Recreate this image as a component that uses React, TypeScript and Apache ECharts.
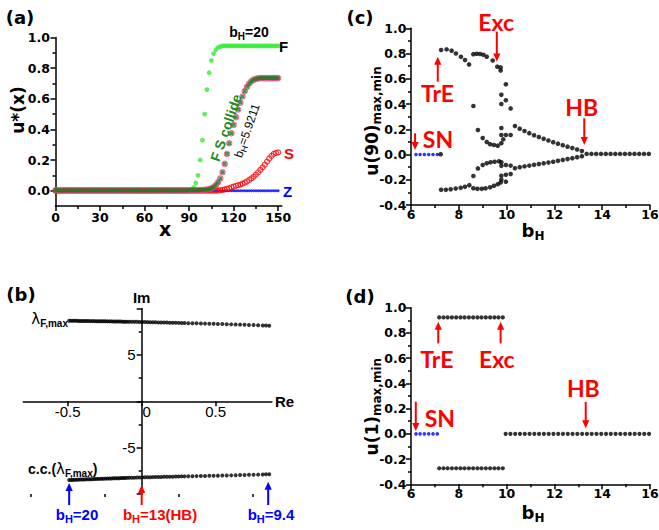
import { useEffect, useRef } from 'react';
import * as echarts from 'echarts';

// ---------------- Panel (a): u*(x) profiles ----------------
const xA = [0,1.5,3,4.5,6,7.5,9,10.5,12,13.5,15,16.5,18,19.5,21,22.5,24,25.5,27,28.5,30,31.5,33,34.5,36,37.5,39,40.5,42,43.5,45,46.5,48,49.5,51,52.5,54,55.5,57,58.5,60,61.5,63,64.5,66,67.5,69,70.5,72,73.5,75,76.5,78,79.5,81,82.5,84,85.5,87,88.5,90,91.5,93,94.5,96,97.5,99,100.5,102,103.5,105,106.5,108,109.5,111,112.5,114,115.5,117,118.5,120,121.5,123,124.5,126,127.5,129,130.5,132,133.5,135,136.5,138,139.5,141,142.5,144,145.5,147,148.5,150];
const uF = [
0,0,0,0,0,0,0,0,0,0, 0,0,0,0,0,0,0,0,0,0, 0,0,0,0,0,0,0,0,0,0,
0,0,0,0,0,0,0,0,0,0, 0,0,0,0,0,0,0,0,0,0, 0,0,0,0,0,0,0,0,0,0,
0.003,0.008,0.02,0.05,0.1,0.2,0.33,0.5,0.66,0.77,
0.85,0.895,0.92,0.935,0.94,0.945,0.945,0.945,0.945,0.945,
0.945,0.945,0.945,0.945,0.945,0.945,0.945,0.945,0.945,0.945,
0.945,0.945,0.945,0.945,0.945,0.945,0.945,0.945,0.945,0.945,
0.945];
const uCollide = [
0.002,0.002,0.002,0.002,0.002,0.002,0.002,0.002,0.002,0.002, 0.002,0.002,0.002,0.002,0.002,0.002,0.002,0.002,0.002,0.002,
0.002,0.002,0.002,0.002,0.002,0.002,0.002,0.002,0.002,0.002, 0.002,0.002,0.002,0.002,0.002,0.002,0.002,0.002,0.002,0.002,
0.002,0.002,0.002,0.002,0.002,0.002,0.002,0.002,0.002,0.002, 0.002,0.002,0.002,0.002,0.002,0.002,0.002,0.002,0.002,0.002,
0.003,0.003,0.003,0.003,0.003,0.004,0.005,0.006,0.008,0.011,
0.016,0.024,0.036,0.055,0.08,0.12,0.175,0.24,0.31,0.375,
0.43,0.48,0.53,0.575,0.615,0.65,0.678,0.7,0.715,0.725,
0.73,0.733,0.735,0.735,0.735,0.735,0.735,0.735,0.735,0.735,
0.735];
const uS = [
0,0,0,0,0,0,0,0,0,0, 0,0,0,0,0,0,0,0,0,0, 0,0,0,0,0,0,0,0,0,0,
0,0,0,0,0,0,0,0,0,0, 0,0,0,0,0,0,0,0,0,0, 0,0,0,0,0,0,0,0,0,0,
0,0,0,0,0,0,0,0,0,0,
0,0,0,0,0.003,0.005,0.008,0.012,0.017,0.022,
0.027,0.032,0.036,0.04,0.046,0.053,0.06,0.07,0.08,0.092,
0.105,0.12,0.136,0.152,0.17,0.19,0.21,0.227,0.24,0.247,
0.25];
const uZ = [
0,0,0,0,0,0,0,0,0,0, 0,0,0,0,0,0,0,0,0,0, 0,0,0,0,0,0,0,0,0,0,
0,0,0,0,0,0,0,0,0,0, 0,0,0,0,0,0,0,0,0,0, 0,0,0,0,0,0,0,0,0,0,
0,0,0,0,0,0,0,0,0,0, 0,0,0,0,0,0,0,0,0,0, 0,0,0,0,0,0,0,0,0,0,
0,0,0,0,0,0,0,0,0,0, 0];
const aXMajor = [0, 30, 60, 90, 120, 150];
const aXMinor = [15, 45, 75, 105, 135];
const aYMajor = [0, 0.2, 0.4, 0.6, 0.8, 1.0];
const aYMinor = [0.1, 0.3, 0.5, 0.7, 0.9];

// ---------------- Panel (b): eigenvalues ----------------
const reB = [
-0.49,-0.477,-0.464,-0.451,-0.438,-0.425,-0.412,-0.399,-0.386,-0.373,-0.36,
-0.347,-0.334,-0.321,-0.308,-0.295,-0.282,-0.269,-0.256,-0.243,-0.23,-0.217,
-0.204,-0.191,-0.178,-0.165,-0.152,-0.139,-0.126,-0.113,-0.1,
-0.085,-0.068,-0.05,-0.032,-0.014,0.004,0.022,0.04,0.058,0.076,0.094,0.113,0.132,0.151,0.17,0.19,0.21,0.23,0.25,0.27,0.29,
0.315,0.343,0.371,0.4,0.428,0.457,0.486,0.515,0.545,0.575,0.605,0.635,0.665,0.695,0.725,0.756,0.787,0.818,0.84,0.862];
const imUpB = [
8.69,8.69,8.68,8.68,8.68,8.67,8.67,8.67,8.66,8.66,8.66,
8.65,8.65,8.65,8.64,8.64,8.64,8.63,8.63,8.63,8.62,8.62,
8.62,8.61,8.61,8.61,8.6,8.6,8.59,8.59,8.59,
8.58,8.58,8.57,8.57,8.56,8.55,8.55,8.54,8.53,8.53,8.52,8.51,8.51,8.5,8.49,8.48,8.47,8.47,8.46,8.45,8.44,
8.43,8.42,8.41,8.4,8.38,8.37,8.36,8.34,8.33,8.31,8.3,8.28,8.27,8.25,8.23,8.22,8.2,8.18,8.17,8.16];
const imLoB = [
-8.49,-8.48,-8.48,-8.47,-8.46,-8.45,-8.44,-8.44,-8.43,-8.42,-8.41,
-8.41,-8.4,-8.39,-8.38,-8.37,-8.37,-8.36,-8.35,-8.34,-8.34,-8.33,
-8.32,-8.31,-8.3,-8.3,-8.29,-8.28,-8.27,-8.27,-8.26,
-8.25,-8.24,-8.24,-8.23,-8.22,-8.21,-8.2,-8.2,-8.19,-8.18,-8.17,-8.17,-8.16,-8.15,-8.14,-8.13,-8.13,-8.12,-8.11,-8.1,-8.1,
-8.09,-8.08,-8.07,-8.06,-8.05,-8.04,-8.03,-8.02,-8.01,-8.0,-7.99,-7.97,-7.96,-7.95,-7.93,-7.92,-7.91,-7.89,-7.88,-7.87];
const bXTicks = [-0.5, 0, 0.5];
const bXMinor = [-0.75, -0.25, 0.25, 0.75];
const bXLabels = ['-0.5', '0', '0.5'];
const bYLabelValues = [5, -5];

// ---------------- Panel (c): u(90) max/min vs bH ----------------
const snC = [[6.21,0],[6.38,0],[6.56,0],[6.74,0],[6.92,0],[7.1,0]];
const cZeroStart = [[7.24,0.003]];
const cUpperLeft = [[7.26,0.828],[7.49,0.833],[7.7,0.823],[7.88,0.8],[8.09,0.774],[8.26,0.748],[8.43,0.714]];
const cLowerLeft = [[7.26,-0.28],[7.46,-0.28],[7.66,-0.276],[7.87,-0.27],[8.08,-0.264],[8.26,-0.256],[8.44,-0.243]];
const cUpperRight = [[8.61,0.795],[8.75,0.798],[8.89,0.796],[9.03,0.79],[9.17,0.775],[9.42,0.744],[9.61,0.696],[9.75,0.69],[9.75,0.665]];
const cInnerUpper = [[8.61,0.384],[8.8,0.194],[9.0,0.13],[9.17,0.1],[9.31,0.082],[9.47,0.075],[9.63,0.07],[9.78,0.09],[9.86,0.12]];
const cInnerLower = [[8.61,-0.17],[8.8,-0.11],[9.0,-0.083],[9.17,-0.07],[9.33,-0.062],[9.5,-0.057],[9.68,-0.054],[9.78,-0.062]];
const cLowerRight = [[8.61,-0.268],[8.78,-0.272],[8.96,-0.272],[9.12,-0.268],[9.31,-0.26],[9.47,-0.248],[9.63,-0.236],[9.75,-0.222]];
const cCluster = [[9.97,0.556],[9.78,0.473],[9.78,0.4],[9.97,0.43],[10.17,0.365],[9.78,0.21],[9.78,0.155],[9.97,0.155],[10.17,0.155],[9.78,-0.09],[9.97,-0.083],[10.17,-0.088],[9.78,-0.168],[9.78,-0.2],[9.97,-0.215],[9.97,-0.16],[10.17,-0.155]];
const cBranchUp = [[10.35,0.225],[10.55,0.205],[10.75,0.186],[10.95,0.169],[11.15,0.153],[11.35,0.138],[11.55,0.124],[11.75,0.111],[11.95,0.098],[12.15,0.086],[12.35,0.074],[12.55,0.062],[12.75,0.051],[12.95,0.04],[13.15,0.028]];
const cBranchLo = [[10.35,-0.108],[10.55,-0.1],[10.75,-0.094],[10.95,-0.088],[11.15,-0.082],[11.35,-0.076],[11.55,-0.07],[11.75,-0.064],[11.95,-0.057],[12.15,-0.05],[12.35,-0.043],[12.55,-0.036],[12.75,-0.029],[12.95,-0.021],[13.15,-0.013]];
const cSteady = [[13.35,0.005],[13.55,0.005],[13.75,0.005],[13.95,0.005],[14.15,0.005],[14.35,0.005],[14.55,0.005],[14.75,0.005],[14.95,0.005],[15.15,0.005],[15.35,0.005],[15.55,0.005],[15.75,0.005],[15.95,0.005]];

// ---------------- Panel (d): u(1) max/min vs bH ----------------
const snD = [[6.21,0],[6.38,0],[6.56,0],[6.74,0],[6.92,0],[7.1,0]];
const dBH = [7.18,7.36,7.53,7.71,7.89,8.07,8.24,8.42,8.6,8.78,8.95,9.13,9.31,9.49,9.66,9.84];
const dMax = [0.923,0.923,0.923,0.923,0.923,0.923,0.923,0.923,0.923,0.923,0.923,0.923,0.923,0.923,0.923,0.923];
const dMin = [-0.273,-0.273,-0.273,-0.273,-0.273,-0.273,-0.273,-0.273,-0.273,-0.273,-0.273,-0.273,-0.273,-0.273,-0.273,-0.273];
const dSteadyBH = [9.96,10.16,10.36,10.56,10.76,10.96,11.16,11.36,11.56,11.76,11.96,12.16,12.36,12.56,12.76,12.96,13.16,13.36,13.56,13.76,13.96,14.16,14.36,14.56,14.76,14.96,15.16,15.36,15.56,15.76,15.96];
const dSteadyU = [0,0,0,0,0,0,0,0,0,0,0,0,0,0,0,0,0,0,0,0,0,0,0,0,0,0,0,0,0,0,0];

const FT = 'DejaVu Sans';
const FA = 'Liberation Sans';
const FC = 'Lato';
const RED = '#ff0000';
const BLUE = '#0000ff';

const lineSt = { color: '#000', width: 1.5 };
const tickLab = (margin: number) => ({ fontFamily: FT, fontWeight: 'bold', fontSize: 12.5, color: '#000', margin });
const fmt1 = (v: number) => (Math.abs(v) < 1e-9 ? 0 : v).toFixed(1);

function bhAxisX(grid: number, margin: number) {
  return {
    type: 'value', gridIndex: grid, min: 6, max: 16, interval: 2, position: 'bottom',
    axisLine: { onZero: false, lineStyle: lineSt },
    axisTick: { length: 5, lineStyle: lineSt },
    minorTick: { show: true, splitNumber: 2, length: 3, lineStyle: lineSt },
    axisLabel: tickLab(margin),
    splitLine: { show: false }, minorSplitLine: { show: false },
  };
}
function uAxisY(grid: number) {
  return {
    type: 'value', gridIndex: grid, min: -0.4, max: 1.0, interval: 0.2, position: 'left',
    axisLine: { onZero: false, lineStyle: lineSt },
    axisTick: { length: 5, lineStyle: lineSt },
    minorTick: { show: true, splitNumber: 2, length: 3, lineStyle: lineSt },
    axisLabel: { ...tickLab(4.5), formatter: fmt1 },
    splitLine: { show: false }, minorSplitLine: { show: false },
  };
}
const dot = (color: string, size: number) => ({ type: 'scatter', symbol: 'circle', symbolSize: size, itemStyle: { color }, silent: true });

export default function App() {
  const ref = useRef<HTMLDivElement>(null);
  useEffect(() => {
    if (!ref.current) return;
    const chart = echarts.init(ref.current, null, { renderer: 'svg' });
    const pairs = (xs: number[], ys: number[]) => xs.map((x, i) => [x, ys[i]]);
    const option: any = {
      animation: false,
      backgroundColor: '#fff',
      grid: [
        { left: 55.5, top: 37.5, width: 226.4, height: 168.5, outerBoundsMode: 'none' },
        { left: 23.3, top: 308.6, width: 248.6, height: 185.4, outerBoundsMode: 'none' },
        { left: 411, top: 28.3, width: 239, height: 176.7, outerBoundsMode: 'none' },
        { left: 411, top: 307.7, width: 239, height: 176.6, outerBoundsMode: 'none' },
      ],
      xAxis: [
        { type: 'value', gridIndex: 0, min: 0, max: 152.5, position: 'bottom',
          axisLine: { onZero: false, lineStyle: lineSt },
          axisTick: { customValues: aXMajor, length: 5, lineStyle: lineSt },
          axisLabel: { ...tickLab(5), customValues: aXMajor },
          splitLine: { show: false } },
        { type: 'value', gridIndex: 0, min: 0, max: 152.5, position: 'bottom',
          axisLine: { show: false, onZero: false },
          axisTick: { show: true, customValues: aXMinor, length: 3, lineStyle: lineSt },
          axisLabel: { show: false }, splitLine: { show: false } },
        { type: 'value', gridIndex: 1, min: -0.8, max: 0.88, position: 'bottom',
          axisLine: { onZero: true, lineStyle: lineSt },
          axisTick: { customValues: bXTicks, length: 5, lineStyle: lineSt },
          axisLabel: { show: false },
          name: 'Re', nameLocation: 'end', nameGap: 3,
          nameTextStyle: { fontFamily: FA, fontWeight: 'bold', fontSize: 15, color: '#000' },
          splitLine: { show: false } },
        { type: 'value', gridIndex: 1, min: -0.8, max: 0.88, position: 'bottom',
          axisLine: { show: false, onZero: true },
          axisTick: { show: true, customValues: bXMinor, length: 3, lineStyle: lineSt },
          axisLabel: { show: false }, splitLine: { show: false } },
        bhAxisX(2, 3),
        bhAxisX(3, 2.5),
      ],
      yAxis: [
        { type: 'value', gridIndex: 0, min: -0.1, max: 1.0, position: 'left',
          axisLine: { onZero: false, lineStyle: lineSt },
          axisTick: { customValues: aYMajor, length: 5, lineStyle: lineSt },
          axisLabel: { ...tickLab(5.5), customValues: aYMajor, formatter: fmt1 },
          splitLine: { show: false } },
        { type: 'value', gridIndex: 0, min: -0.1, max: 1.0, position: 'left',
          axisLine: { show: false, onZero: false },
          axisTick: { show: true, customValues: aYMinor, length: 3, lineStyle: lineSt },
          axisLabel: { show: false }, splitLine: { show: false } },
        { type: 'value', gridIndex: 1, min: -10, max: 10, interval: 5, position: 'left',
          axisLine: { onZero: true, lineStyle: lineSt },
          axisTick: { length: 5, lineStyle: lineSt },
          minorTick: { show: true, splitNumber: 2, length: 3, lineStyle: lineSt },
          axisLabel: { show: false },
          name: 'Im', nameLocation: 'end', nameGap: 4,
          nameTextStyle: { fontFamily: FA, fontWeight: 'bold', fontSize: 15, color: '#000' },
          splitLine: { show: false }, minorSplitLine: { show: false } },
        uAxisY(2),
        uAxisY(3),
      ],
      series: [
        // (a)
        { ...dot(BLUE, 3), xAxisIndex: 0, yAxisIndex: 0, data: pairs(xA, uZ) },
        { ...dot('#33ee33', 4.8), xAxisIndex: 0, yAxisIndex: 0, data: pairs(xA, uF) },
        { type: 'scatter', silent: true, xAxisIndex: 0, yAxisIndex: 0, symbol: 'circle', symbolSize: 5,
          itemStyle: { color: 'rgba(0,0,0,0)', borderColor: RED, borderWidth: 1.1 }, data: pairs(xA, uS) },
        { type: 'scatter', silent: true, xAxisIndex: 0, yAxisIndex: 0, symbol: 'circle', symbolSize: 5.4,
          itemStyle: { color: 'rgba(0,0,0,0)', borderColor: '#f0407f', borderWidth: 1.1 }, data: pairs(xA, uCollide) },
        { type: 'scatter', silent: true, xAxisIndex: 0, yAxisIndex: 0, symbol: 'rect', symbolSize: 3.8,
          itemStyle: { color: '#1f7a1f' }, data: pairs(xA, uCollide) },
        // (b)
        { ...dot('#000', 4), xAxisIndex: 2, yAxisIndex: 2, data: pairs(reB, imUpB) },
        { ...dot('#000', 4), xAxisIndex: 2, yAxisIndex: 2, data: pairs(reB, imLoB) },
        // (c)
        { ...dot(BLUE, 3.6), xAxisIndex: 4, yAxisIndex: 3, data: snC },
        { ...dot('#000', 4.6), xAxisIndex: 4, yAxisIndex: 3,
          data: [...cZeroStart, ...cUpperLeft, ...cLowerLeft, ...cUpperRight, ...cInnerUpper, ...cInnerLower, ...cLowerRight, ...cCluster, ...cBranchUp, ...cBranchLo, ...cSteady] },
        // (d)
        { ...dot(BLUE, 3.6), xAxisIndex: 5, yAxisIndex: 4, data: snD },
        { ...dot('#000', 4.2), xAxisIndex: 5, yAxisIndex: 4,
          data: [...pairs(dBH, dMax), ...pairs(dBH, dMin), ...pairs(dSteadyBH, dSteadyU)] },
      ],
    };
    chart.setOption(option);

    const P = (panel: string, v: number[]) => {
      const f: any = panel === 'a' ? { xAxisIndex: 0, yAxisIndex: 0 }
        : panel === 'b' ? { xAxisIndex: 2, yAxisIndex: 2 }
        : panel === 'c' ? { xAxisIndex: 4, yAxisIndex: 3 }
        : { xAxisIndex: 5, yAxisIndex: 4 };
      return chart.convertToPixel(f, v) as unknown as number[];
    };
    const T = (xy: number[], text: string, o: any = {}) => ({
      type: 'text', x: xy[0], y: xy[1], rotation: o.rot || 0, z: 100, silent: true,
      style: {
        text, fill: o.color || '#000', fontFamily: o.family || FA, fontSize: o.size || 14,
        fontWeight: o.weight || 'bold', align: o.align || 'center', verticalAlign: o.va || 'middle',
        textAlign: o.align || 'center', textVerticalAlign: o.va || 'middle', rich: o.rich,
      },
    });
    const sub = (main: number, family: string, color: string, weight = 'bold', subSize?: number) => ({
      n: { fontFamily: family, fontSize: main, fontWeight: weight, fill: color, color },
      s: { fontFamily: family, fontSize: subSize || Math.round(main * 0.7), fontWeight: weight, fill: color, color, padding: [Math.round(main * 0.62), 0, 0, 0] },
      l: { fontFamily: FT, fontSize: main + 1, fontWeight: 'normal', fill: color, color },
    });
    const arrow = (p1: number[], p2: number[], color: string) => {
      const dx = p2[0] - p1[0], dy = p2[1] - p1[1];
      const L = Math.hypot(dx, dy); const ux = dx / L, uy = dy / L;
      const hl = 8, hw = 3.6;
      const bx = p2[0] - ux * hl, by = p2[1] - uy * hl;
      return [
        { type: 'line', z: 100, silent: true, shape: { x1: p1[0], y1: p1[1], x2: bx + ux, y2: by + uy }, style: { stroke: color, lineWidth: 2 } },
        { type: 'polygon', z: 100, silent: true, shape: { points: [[p2[0], p2[1]], [bx - uy * hw, by + ux * hw], [bx + uy * hw, by - ux * hw]] }, style: { fill: color } },
      ];
    };
    const big = { family: FC, size: 23, color: RED };
    const ROT = 1.24;
    // (b) tick labels placed at the axes crossing at zero
    const bTickLabels: any[] = [];
    bXTicks.forEach((v, i) => {
      const p = P('b', [v, 0]);
      bTickLabels.push(T([p[0] + (v === 0 ? 5 : 0), p[1] + 3], bXLabels[i], { weight: 'normal', size: 15, va: 'top' }));
    });
    bYLabelValues.forEach((v) => {
      const p = P('b', [0, v]);
      bTickLabels.push(T([p[0] - 6, p[1]], String(v), { weight: 'normal', size: 15, align: 'right' }));
    });
    const graphic: any[] = [
      // panel labels
      T([20, 17], '(a)', { family: FT, size: 18 }),
      T([360, 17], '(c)', { family: FT, size: 18 }),
      T([21, 294], '(b)', { family: FT, size: 18 }),
      T([360, 296], '(d)', { family: FT, size: 18 }),
      // axis names
      T([18, 110], 'u*(x)', { family: FT, size: 17, rot: Math.PI / 2 }),
      T([165, 229], 'x', { family: FT, size: 19 }),
      T([371.7, 121], '{n|u(90)}{s|max,min}', { rot: Math.PI / 2, rich: sub(17, FT, '#000', 'bold', 12) }),
      T([371.7, 406.7], '{n|u(1)}{s|max,min}', { rot: Math.PI / 2, rich: sub(17, FT, '#000', 'bold', 12) }),
      T([533, 230], '{n|b}{s|H}', { rich: sub(18, FT, '#000', 'bold', 12) }),
      T([533, 512], '{n|b}{s|H}', { rich: sub(18, FT, '#000', 'bold', 12) }),
      ...bTickLabels,
      // (a) annotations
      T(P('a', [130.3, 1.038]), '{n|b}{s|H}{n|=20}', { rich: sub(14, FA, '#000') }),
      T(P('a', [150.5, 0.94]), 'F', { size: 15, align: 'left' }),
      T(P('a', [153.9, 0.24]), 'S', { size: 15, align: 'left', color: RED }),
      T(P('a', [153.2, -0.007]), 'Z', { size: 15, align: 'left', color: BLUE }),
      T(P('a', [114.8, 0.41]), 'F S collide', { size: 14, color: '#228b22', rot: ROT }),
      T(P('a', [129, 0.392]), '{n|b}{s|H}{n|=5.9211}', { rot: ROT, rich: sub(12, FA, '#000', 'normal', 9) }),
      // (b) annotations
      T(P('b', [-0.498, 8.88]), '{l|λ}{s|F,max}', { align: 'right', rich: sub(14, FA, '#000', 'bold', 10) }),
      T(P('b', [-0.768, -7.3]), '{n|c.c.(}{l|λ}{s|F,max}{n|)}', { align: 'left', rich: sub(14, FA, '#000', 'bold', 10) }),
      T(P('b', [-0.437, -12.26]), '{n|b}{s|H}{n|=20}', { rich: sub(15, FA, BLUE) }),
      T(P('b', [0.124, -12.26]), '{n|b}{s|H}{n|=13(HB)}', { rich: sub(15, FA, RED) }),
      T(P('b', [0.874, -12.26]), '{n|b}{s|H}{n|=9.4}', { rich: sub(15, FA, BLUE) }),
      ...arrow(P('b', [-0.49, -11.19]), P('b', [-0.49, -8.81]), BLUE),
      ...arrow(P('b', [0, -11.19]), P('b', [0, -9.03]), RED),
      ...arrow(P('b', [0.855, -11.19]), P('b', [0.855, -8.67]), BLUE),
      // (c) annotations
      T(P('c', [9.56, 1.05]), 'Exc', big),
      T(P('c', [7.11, 0.487]), 'TrE', big),
      T(P('c', [13.14, 0.376]), 'HB', big),
      T(P('c', [7.13, 0.123]), 'SN', big),
      ...arrow(P('c', [9.59, 0.974]), P('c', [9.59, 0.736]), RED),
      ...arrow(P('c', [7.12, 0.577]), P('c', [7.12, 0.775]), RED),
      ...arrow(P('c', [13.25, 0.287]), P('c', [13.25, 0.0755]), RED),
      ...arrow(P('c', [6.17, 0.168]), P('c', [6.17, 0.036]), RED),
      // (d) annotations
      T(P('d', [7.08, 0.595]), 'TrE', big),
      T(P('d', [9.59, 0.595]), 'Exc', big),
      T(P('d', [13.21, 0.365]), 'HB', big),
      T(P('d', [7.21, 0.126]), 'SN', big),
      ...arrow(P('d', [7.14, 0.717]), P('d', [7.14, 0.889]), RED),
      ...arrow(P('d', [9.75, 0.717]), P('d', [9.75, 0.889]), RED),
      ...arrow(P('d', [13.31, 0.253]), P('d', [13.31, 0.044]), RED),
      ...arrow(P('d', [6.2, 0.255]), P('d', [6.2, 0.022]), RED),
    ];
    chart.setOption({ graphic });
    return () => chart.dispose();
  }, []);
  return <div ref={ref} style={{ position: 'absolute', left: 0, top: 0, width: 659, height: 530 }} />;
}
